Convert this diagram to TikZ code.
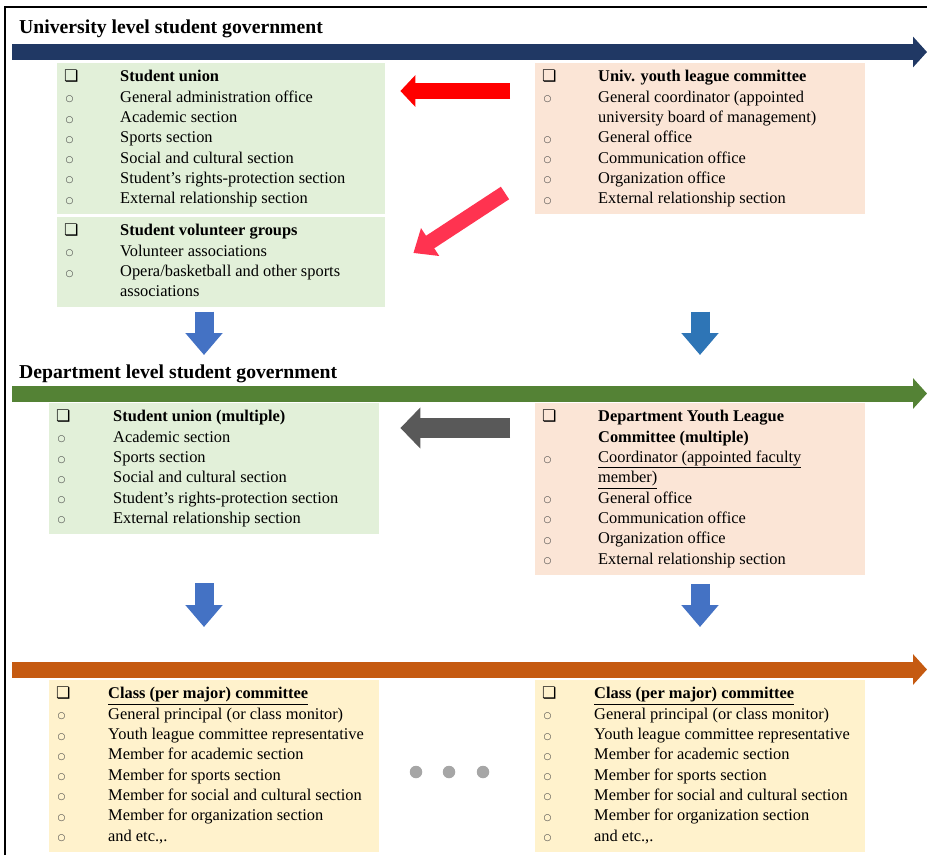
\documentclass[tikz,border=0pt]{standalone}
\usepackage{fontspec}
\setmainfont{Liberation Serif}
\newfontfamily\symfont{DejaVu Sans}
\usetikzlibrary{arrows.meta}

\definecolor{navybar}{RGB}{32,56,100}
\definecolor{greenbar}{RGB}{84,130,53}
\definecolor{orangebar}{RGB}{197,90,17}
\definecolor{greenfill}{RGB}{226,240,217}
\definecolor{peachfill}{RGB}{251,229,214}
\definecolor{yellowfill}{RGB}{255,242,204}
\definecolor{pinkarrow}{RGB}{255,51,80}
\definecolor{grayarrow}{RGB}{89,89,89}
\definecolor{bluearrow}{RGB}{68,114,196}
\definecolor{bluearrowb}{RGB}{46,117,182}
\definecolor{dotgray}{RGB}{166,166,166}

\newcommand{\sqbul}{{\symfont\fontsize{16}{16}\selectfont ❏}}
\newcommand{\rndbul}{{\symfont\fontsize{9}{9}\selectfont\color{black!75}\raisebox{0.5pt}{○}}}
\newcommand{\boxhead}[1]{\sqbul & \textbf{#1}\\}
\newcommand{\boxitem}[1]{\hspace*{1.5pt}\rndbul & #1\\}
\newcommand{\boxlist}[3]{\begin{tabular}{@{}p{#1}@{}p{#2}@{}}#3\end{tabular}}

\tikzset{
  listbox/.style={anchor=north west, inner xsep=7pt, inner ysep=4.5pt, fill=#1},
  leveltitle/.style={anchor=base west, inner sep=0pt, font=\fontsize{19.7}{24}\selectfont\bfseries},
  band/.style={draw=#1, line width=16pt, -{Triangle[length=14pt,width=30pt]}},
  downarrow/.style={draw=#1, line width=19pt, -{Triangle[length=22pt,width=36pt]}},
  dotnode/.style={circle, fill=dotgray, minimum size=12.5pt, inner sep=0pt}
}

\begin{document}
\begin{tikzpicture}[x=1pt,y=-1pt,font=\fontsize{16.4}{20.3}\selectfont]
  \useasboundingbox (0,0) rectangle (927,855);
  \draw[line width=1.3pt] (5,855) -- (5,7) -- (927,7);

  % university level
  \node[leveltitle] (unititle) at (19,33) {University level student government};
  \draw[band=navybar] (12,52) -- (927,52);

  \node[listbox=greenfill] (su) at (57,63) {\boxlist{56pt}{258pt}{
    \boxhead{Student union}
    \boxitem{General administration office}
    \boxitem{Academic section}
    \boxitem{Sports section}
    \boxitem{Social and cultural section}
    \boxitem{Student's rights-protection section}
    \boxitem{External relationship section}}};
  \node[listbox=greenfill] (sv) at (57,217) {\boxlist{56pt}{258pt}{
    \boxhead{Student volunteer groups}
    \boxitem{Volunteer associations}
    \boxitem{Opera/basketball and other sports\newline associations}}};
  \node[listbox=peachfill] (uyl) at (535,63) {\boxlist{56pt}{260pt}{
    \boxhead{Univ. youth league committee}
    \boxitem{General coordinator (appointed\newline university board of management)}
    \boxitem{General office}
    \boxitem{Communication office}
    \boxitem{Organization office}
    \boxitem{External relationship section}}};

  \draw[red, line width=16pt, -{Triangle[length=15pt,width=31pt]}, shorten <=25pt, shorten >=15pt]
    ([yshift=-28pt]uyl.north west) -- ([yshift=-28pt]su.north east);
  \draw[pinkarrow, line width=15pt, -{Triangle[length=20pt,width=32pt]}]
    ([shift={(-30pt,-130pt)}]uyl.north west) -- ([shift={(28pt,-36pt)}]sv.north east);

  % department level
  \node[leveltitle] (deptitle) at (19,378) {Department level student government};
  \draw[band=greenbar] (12,393.5) -- (927,393.5);

  \node[listbox=greenfill] (dsu) at (49,403) {\boxlist{57pt}{259pt}{
    \boxhead{Student union (multiple)}
    \boxitem{Academic section}
    \boxitem{Sports section}
    \boxitem{Social and cultural section}
    \boxitem{Student's rights-protection section}
    \boxitem{External relationship section}}};
  \node[listbox=peachfill] (dyl) at (535,403) {\boxlist{56pt}{260pt}{
    \boxhead{Department Youth League\newline Committee (multiple)}
    \boxitem{\underline{Coordinator (appointed faculty}\newline\underline{member)}}
    \boxitem{General office}
    \boxitem{Communication office}
    \boxitem{Organization office}
    \boxitem{External relationship section}}};

  \draw[grayarrow, line width=20pt, -{Triangle[length=20pt,width=40pt]}, shorten <=25pt, shorten >=21pt]
    ([yshift=-25pt]dyl.north west) -- ([yshift=-25pt]dsu.north east);

  % class level
  \draw[band=orangebar] (12,669.5) -- (927,669.5);

  \node[listbox=yellowfill] (ycl) at (49,680) {\boxlist{52pt}{264pt}{
    \boxhead{\underline{Class (per major) committee}}
    \boxitem{General principal (or class monitor)}
    \boxitem{Youth league committee representative}
    \boxitem{Member for academic section}
    \boxitem{Member for sports section}
    \boxitem{Member for social and cultural section}
    \boxitem{Member for organization section}
    \boxitem{and etc.,.}}};
  \node[listbox=yellowfill] (ycr) at (535,680) {\boxlist{52pt}{264pt}{
    \boxhead{\underline{Class (per major) committee}}
    \boxitem{General principal (or class monitor)}
    \boxitem{Youth league committee representative}
    \boxitem{Member for academic section}
    \boxitem{Member for sports section}
    \boxitem{Member for social and cultural section}
    \boxitem{Member for organization section}
    \boxitem{and etc.,.}}};

  \node[dotnode] (dot1) at (416,772) {};
  \node[dotnode] (dot2) at (449,772) {};
  \node[dotnode] (dot3) at (483,772) {};

  % down arrows
  \coordinate (lcol) at (204,0);
  \coordinate (rcol) at (700,0);
  \draw[downarrow=bluearrow, shorten <=4pt, shorten >=48pt] (sv.south -| lcol) -- (dsu.north -| lcol);
  \draw[downarrow=bluearrowb, shorten <=97pt, shorten >=48pt] (uyl.south -| rcol) -- (dyl.north -| rcol);
  \draw[downarrow=bluearrow, shorten <=49pt, shorten >=53pt] (dsu.south -| lcol) -- (ycl.north -| lcol);
  \draw[downarrow=bluearrow, shorten <=9pt, shorten >=53pt] (dyl.south -| rcol) -- (ycr.north -| rcol);
\end{tikzpicture}
\end{document}
